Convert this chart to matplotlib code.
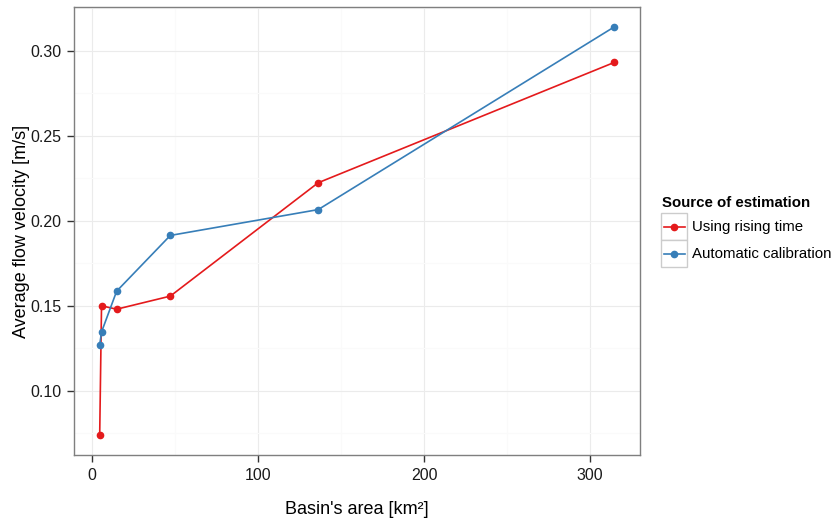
import matplotlib
matplotlib.use("Agg")
import matplotlib.pyplot as plt
from matplotlib.ticker import MultipleLocator
from matplotlib.lines import Line2D
from matplotlib.patches import Rectangle

plt.rcParams["font.family"] = ["Liberation Sans", "DejaVu Sans"]

# basin areas [km2] and velocities [m/s]
area = [4.8, 5.9, 15.0, 47.3, 136.3, 314.5]
rising_time = [0.0742, 0.1500, 0.1480, 0.1557, 0.2224, 0.2932]
auto_calib = [0.1270, 0.1346, 0.1586, 0.1914, 0.2066, 0.3141]
series_names = ["Using rising time", "Automatic calibration"]
colors = ["#E41A1C", "#377EB8"]

W, H = 833, 525


def px(x, y):
    # pixel position (top-left origin) -> figure fraction
    return x / W, 1 - y / H


def main():
    fig = plt.figure(figsize=(W / 100, H / 100), dpi=100)
    ax = fig.add_axes([0.0888, 0.1333, 0.6795, 0.8543])

    for vals, name, col in zip([rising_time, auto_calib], series_names, colors):
        ax.plot(area, vals, color=col, lw=1.2, marker="o", ms=4.5, label=name, zorder=3)

    ax.margins(0.05)
    ax.xaxis.set_major_locator(MultipleLocator(100))
    ax.xaxis.set_minor_locator(MultipleLocator(50))
    ax.yaxis.set_major_locator(MultipleLocator(0.05))
    ax.yaxis.set_minor_locator(MultipleLocator(0.025))
    ax.yaxis.set_major_formatter(lambda v, p: f"{v:.2f}")

    ax.grid(which="major", color="#EBEBEB", lw=0.8)
    ax.grid(which="minor", color="#FAFAFA", lw=0.8)
    ax.set_axisbelow(True)
    for s in ax.spines.values():
        s.set_color("#7F7F7F")
        s.set_linewidth(1.0)

    ax.tick_params(which="major", length=5, width=1, color="#333333",
                   labelsize=11.5, labelcolor="#1A1A1A", pad=4)
    ax.tick_params(which="minor", length=0)

    ax.set_xlabel("Basin's area [km²]", fontsize=13)
    ax.set_ylabel("Average flow velocity [m/s]", fontsize=13)
    ax.xaxis.label.set_va("center")
    ax.yaxis.label.set_va("center")
    ax.xaxis.set_label_coords((357 - 74) / 566, (455 - 510) / 449)
    ax.yaxis.set_label_coords((22 - 74) / 566, (455 - 231) / 449)

    # legend, ggplot style with boxed keys
    fig.text(*px(662, 203), "Source of estimation", fontsize=10.8,
             fontweight="bold", va="center", ha="left")
    for i, (name, col) in enumerate(zip(series_names, colors)):
        top = 213 + i * 27
        x0, y0 = px(661, top + 27)
        fig.patches.append(Rectangle((x0, y0), 26 / W, 27 / H, transform=fig.transFigure,
                                     facecolor="white", edgecolor="#CCCCCC", lw=1.0))
        xa, ya = px(664, top + 14)
        xb, _ = px(685, top + 14)
        xm, _ = px(674, top + 14)
        fig.lines.append(Line2D([xa, xb], [ya, ya], transform=fig.transFigure,
                                color=col, lw=1.2))
        fig.lines.append(Line2D([xm], [ya], transform=fig.transFigure, color=col,
                                marker="o", ms=4.5, lw=0))
        fig.text(*px(692, top + 14), name, fontsize=10.8, va="center", ha="left")

    fig.savefig("out.png", dpi=100)


main()
